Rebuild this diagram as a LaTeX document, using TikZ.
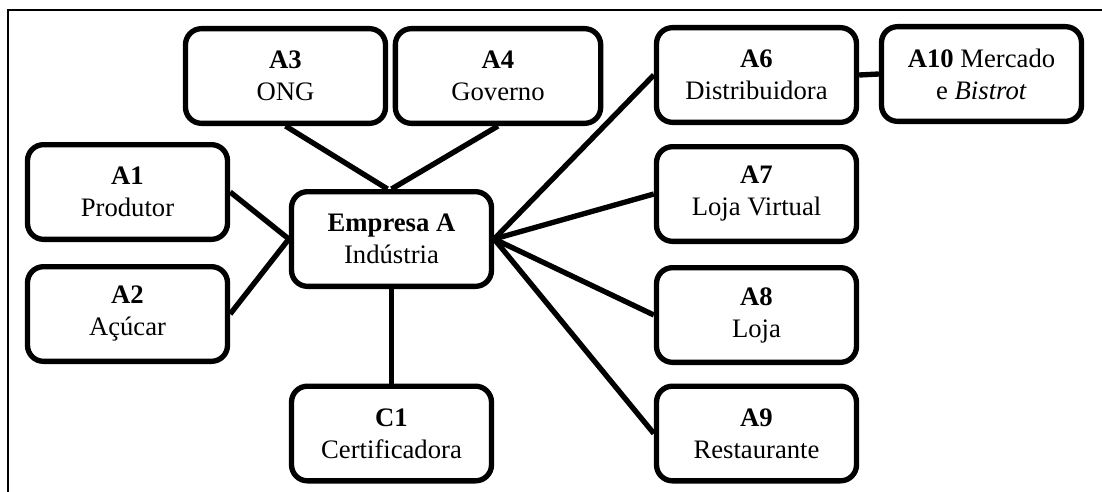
\documentclass[tikz,border=0pt]{standalone}
\usepackage{fontspec}
\setmainfont{Liberation Serif}
\begin{document}
\begin{tikzpicture}[x=0.75pt, y=-0.75pt,
  actor/.style={draw=black, line width=4pt, rounded corners=12pt, fill=white,
    minimum width=150pt, minimum height=71pt, align=center, inner sep=2pt,
    font=\fontsize{20}{24}\selectfont},
  link/.style={line width=4pt}]
  \useasboundingbox (0,0) rectangle (1102,492);
  % open frame: left and top edges only
  \draw[line width=1.3pt] (8,492) -- (8,10) -- (1102,10);

  % central firm
  \node[actor] (E)   at (391.5,239) {\textbf{Empresa A}\\Indústria};
  % suppliers on the left
  \node[actor] (A1)  at (127.5,192) {\textbf{A1}\\Produtor};
  \node[actor] (A2)  at (127.5,314) {\textbf{A2}\\Açúcar};
  % institutions above
  \node[actor] (A3)  at (285.5,76)  {\textbf{A3}\\ONG};
  \node[actor, minimum width=154pt] (A4) at (498,76) {\textbf{A4}\\Governo};
  % distribution channels on the right
  \node[actor] (A6)  at (756.5,75)  {\textbf{A6}\\Distribuidora};
  \node[actor] (A10) at (981.5,74)  {\textbf{A10} Mercado\\e \textit{Bistrot}};
  \node[actor] (A7)  at (756.5,194) {\textbf{A7}\\Loja Virtual};
  \node[actor] (A8)  at (756.5,315) {\textbf{A8}\\Loja};
  \node[actor] (A9)  at (756.5,433.5) {\textbf{A9}\\Restaurante};
  % certifier below
  \node[actor] (C1)  at (391.5,433.5) {\textbf{C1}\\Certificadora};

  % relations
  \draw[link] (A3.south) -- ([xshift=-3pt]E.north);
  \draw[link] (A4.south) -- (E.north);
  \draw[link] (A1.east) -- (E.west);
  \draw[link] (A2.east) -- (E.west);
  \draw[link] (E.east) -- (A6.west);
  \draw[link] (E.east) -- (A7.west);
  \draw[link] (E.east) -- (A8.west);
  \draw[link] (E.east) -- (A9.west);
  \draw[link] (E.south) -- (C1.north);
  \draw[link] (A6.east) -- (A10.west);
\end{tikzpicture}
\end{document}
